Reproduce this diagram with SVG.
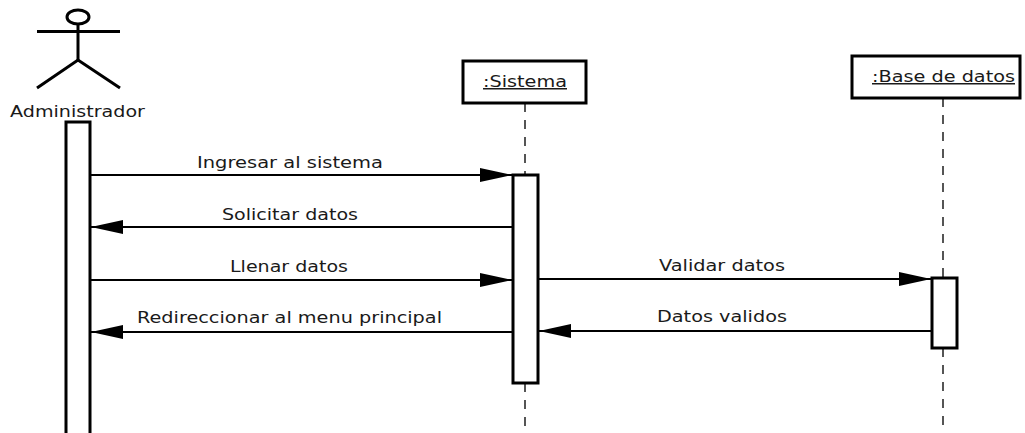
<svg xmlns="http://www.w3.org/2000/svg" width="1025" height="433" viewBox="0 0 1025 433">
<style>
text{font-family:"DejaVu Sans","Liberation Sans",sans-serif;font-size:15px;fill:#1a1a1a}
.box{fill:#fff;stroke:#000;stroke-width:3}
.act{fill:#fff;stroke:#000;stroke-width:3}
.life{stroke:#555;stroke-width:2;stroke-dasharray:9 8;fill:none}
.msg{stroke:#000;stroke-width:2;fill:none}
.fig{stroke:#000;stroke-width:3;fill:none}
</style>
<defs>
<marker id="arr" markerUnits="userSpaceOnUse" markerWidth="32" markerHeight="14" refX="32" refY="7" orient="auto" viewBox="0 0 32 14">
<path d="M0,0 L32,7 L0,14 z" fill="#000"/>
</marker>
</defs>
<rect width="1025" height="433" fill="#fff"/>
<g id="administrador">
<ellipse class="fig" cx="78" cy="17" rx="11" ry="7"/>
<line class="fig" x1="37" y1="31.5" x2="120" y2="31.5"/>
<line class="fig" x1="78" y1="24" x2="78" y2="60"/>
<path class="fig" d="M37,88 L78,60 L120,88"/>
<text x="10" y="117" textLength="135" lengthAdjust="spacingAndGlyphs">Administrador</text>
<rect class="act" x="66" y="122" width="24" height="320"/>
</g>
<g id="sistema">
<line class="life" x1="525" y1="103" x2="525" y2="175"/>
<line class="life" x1="525" y1="383" x2="525" y2="433"/>
<rect class="box" x="463" y="61" width="123" height="42"/>
<text x="483" y="87" textLength="84" lengthAdjust="spacingAndGlyphs" text-decoration="underline">:Sistema</text>
<rect class="act" x="513" y="175" width="25" height="208"/>
</g>
<g id="basedatos">
<line class="life" x1="943" y1="98" x2="943" y2="278"/>
<line class="life" x1="943" y1="348" x2="943" y2="433"/>
<rect class="box" x="852" y="56" width="168" height="42"/>
<text x="872" y="82" textLength="143" lengthAdjust="spacingAndGlyphs" text-decoration="underline">:Base de datos</text>
<rect class="act" x="932" y="278" width="25" height="70"/>
</g>
<g id="connectors">
<line class="msg" x1="91" y1="175" x2="512" y2="175" marker-end="url(#arr)"/>
<text x="197" y="168" textLength="186" lengthAdjust="spacingAndGlyphs">Ingresar al sistema</text>
<line class="msg" x1="512" y1="227" x2="91" y2="227" marker-end="url(#arr)"/>
<text x="222" y="220" textLength="136" lengthAdjust="spacingAndGlyphs">Solicitar datos</text>
<line class="msg" x1="91" y1="280" x2="512" y2="280" marker-end="url(#arr)"/>
<text x="230" y="272" textLength="118" lengthAdjust="spacingAndGlyphs">Llenar datos</text>
<line class="msg" x1="512" y1="332" x2="91" y2="332" marker-end="url(#arr)"/>
<text x="137" y="323" textLength="305" lengthAdjust="spacingAndGlyphs">Redireccionar al menu principal</text>
<line class="msg" x1="539" y1="279" x2="931" y2="279" marker-end="url(#arr)"/>
<text x="659" y="271" textLength="126" lengthAdjust="spacingAndGlyphs">Validar datos</text>
<line class="msg" x1="931" y1="331" x2="539" y2="331" marker-end="url(#arr)"/>
<text x="657" y="322" textLength="130" lengthAdjust="spacingAndGlyphs">Datos validos</text>
</g>
</svg>
